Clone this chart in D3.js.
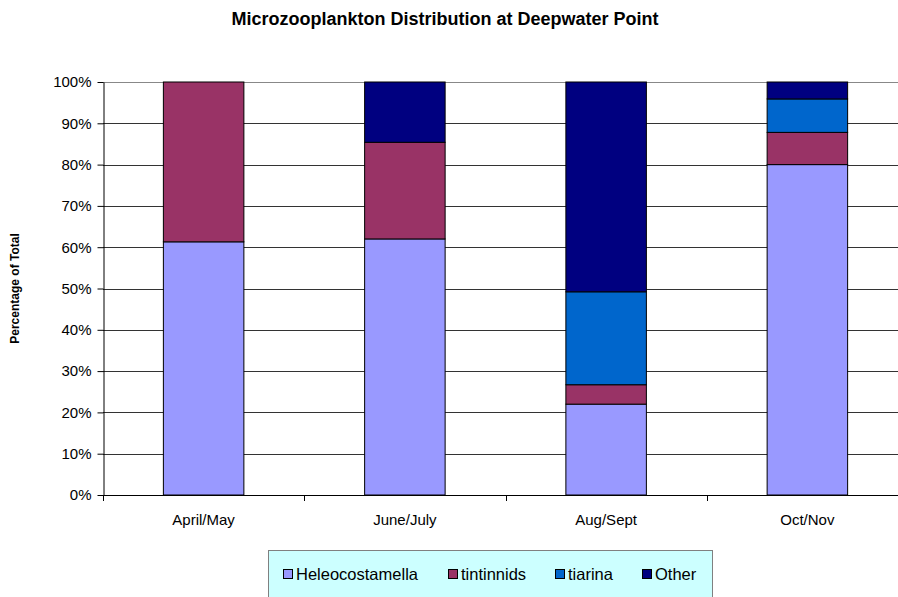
<!DOCTYPE html>
<html>
<head>
<meta charset="utf-8">
<script src="https://cdn.jsdelivr.net/npm/d3@7"></script>
<style>
  body { margin: 0; background: #fff; }
  svg { font-family: "Liberation Sans", Arial, sans-serif; }
</style>
</head>
<body>
<div id="chart"></div>
<script>
// data
const periods = ["April/May", "June/July", "Aug/Sept", "Oct/Nov"];
const taxa = ["Heleocostamella", "tintinnids", "tiarina", "Other"];
const heleocostamella = [61.3, 62.0, 22.0, 80.0];
const tintinnids = [38.7, 23.4, 4.7, 7.8];
const tiarina = [0, 0, 22.5, 8.1];
const other = [0, 14.6, 50.8, 4.1];
const yTicks = [0, 10, 20, 30, 40, 50, 60, 70, 80, 90, 100];
const colors = ["#9999FF", "#993366", "#0066CC", "#000080"];

const width = 898, height = 597;
const margin = {top: 82, left: 103, bottom: 102};
const plotRight = 908;

const svg = d3.select("#chart").append("svg")
    .attr("width", width)
    .attr("height", height);

// rows for the stack
const rows = periods.map((p, i) => ({
    period: p,
    Heleocostamella: heleocostamella[i],
    tintinnids: tintinnids[i],
    tiarina: tiarina[i],
    Other: other[i]
}));
const series = d3.stack().keys(taxa)(rows);

const x = d3.scaleBand()
    .domain(periods)
    .range([margin.left, plotRight])
    .paddingInner(0.6)
    .paddingOuter(0.3);

const y = d3.scaleLinear()
    .domain([0, 100])
    .range([height - margin.bottom, margin.top]);

// gridlines
svg.append("g")
    .selectAll("line")
    .data(yTicks.slice(1))
    .join("line")
    .attr("x1", margin.left)
    .attr("x2", plotRight)
    .attr("y1", d => Math.round(y(d)) + 0.5)
    .attr("y2", d => Math.round(y(d)) + 0.5)
    .attr("stroke", d => d === 100 ? "#888" : "#333")
    .attr("stroke-width", 1);

// stacked bars
svg.append("g")
    .selectAll("g")
    .data(series)
    .join("g")
    .attr("fill", (d, i) => colors[i])
    .selectAll("rect")
    .data(d => d.filter(s => s[1] - s[0] > 0))
    .join("rect")
    .attr("x", d => x(d.data.period))
    .attr("y", d => y(d[1]))
    .attr("width", x.bandwidth())
    .attr("height", d => y(d[0]) - y(d[1]))
    .attr("stroke", "#000")
    .attr("stroke-width", 1);

// y axis
const yAxis = svg.append("g")
    .attr("transform", `translate(${margin.left + 0.5},0)`)
    .call(d3.axisLeft(y).tickValues(yTicks).tickFormat(d => d + "%").tickSize(6).tickSizeOuter(0));
yAxis.select(".domain").attr("stroke", "#000");
yAxis.selectAll(".tick line").attr("stroke", "#000");
yAxis.selectAll("text")
    .attr("x", -12)
    .attr("font-size", 15)
    .attr("font-family", "Liberation Sans, Arial, sans-serif")
    .attr("fill", "#000");

// x axis
const boundaries = d3.range(periods.length + 1).map(i => margin.left + i * x.step());
const xg = svg.append("g");
xg.append("line")
    .attr("x1", margin.left)
    .attr("x2", plotRight)
    .attr("y1", y(0) + 0.5)
    .attr("y2", y(0) + 0.5)
    .attr("stroke", "#000");
xg.selectAll(".xtick")
    .data(boundaries)
    .join("line")
    .attr("class", "xtick")
    .attr("x1", d => Math.round(d) + 0.5)
    .attr("x2", d => Math.round(d) + 0.5)
    .attr("y1", y(0))
    .attr("y2", y(0) + 6)
    .attr("stroke", "#000");
xg.selectAll("text")
    .data(periods)
    .join("text")
    .attr("x", d => x(d) + x.bandwidth() / 2)
    .attr("y", y(0) + 30)
    .attr("text-anchor", "middle")
    .attr("font-size", 15)
    .text(d => d);

// title
svg.append("text")
    .attr("x", 445)
    .attr("y", 25)
    .attr("text-anchor", "middle")
    .attr("font-size", 18)
    .attr("font-weight", "bold")
    .text("Microzooplankton Distribution at Deepwater Point");

// y label
svg.append("text")
    .attr("transform", `translate(19,${y(50)}) rotate(-90)`)
    .attr("text-anchor", "middle")
    .attr("font-size", 12)
    .attr("font-weight", "bold")
    .text("Percentage of Total");

// legend
const legend = svg.append("g");
legend.append("rect")
    .attr("x", 268.5)
    .attr("y", 550.5)
    .attr("width", 444)
    .attr("height", 52)
    .attr("fill", "#CCFFFF")
    .attr("stroke", "#808080");
const legendX = [283, 448, 555, 642];
const items = legend.selectAll(".item")
    .data(taxa)
    .join("g")
    .attr("class", "item")
    .attr("transform", (d, i) => `translate(${legendX[i]},574)`);
items.append("rect")
    .attr("x", 0.5)
    .attr("y", -4.5)
    .attr("width", 9)
    .attr("height", 9)
    .attr("fill", (d, i) => colors[i])
    .attr("stroke", "#000");
items.append("text")
    .attr("x", 13)
    .attr("y", 5.5)
    .attr("font-size", 16.5)
    .text(d => d);
</script>
</body>
</html>
